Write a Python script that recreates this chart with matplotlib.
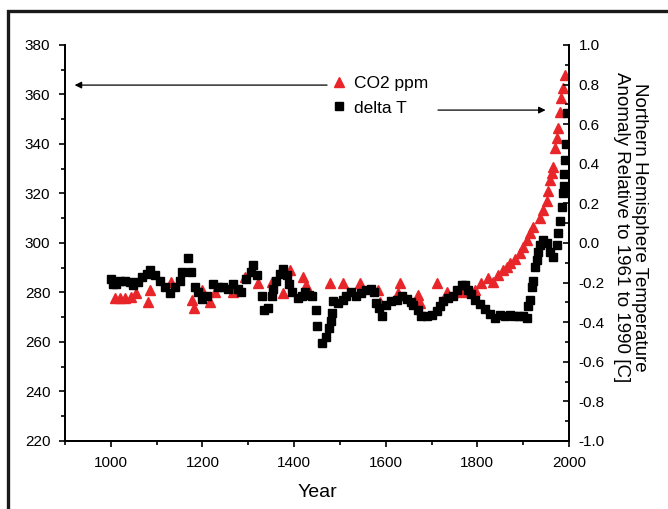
import matplotlib
matplotlib.use('Agg')
from matplotlib import pyplot as plt
from matplotlib.patches import Rectangle
from matplotlib.ticker import MultipleLocator, FormatStrFormatter

plt.rcParams['font.family'] = ['Liberation Sans', 'DejaVu Sans']

# CO2 (ppm)
co2_year = [1009, 1020, 1031, 1045, 1056, 1081, 1085, 1132, 1178, 1182, 1198,
            1216, 1227, 1267, 1293, 1322, 1351, 1376, 1391, 1420, 1427, 1478,
            1507, 1544, 1584, 1588, 1627, 1631, 1671, 1675, 1711, 1733, 1766,
            1795, 1809, 1824, 1835, 1846, 1857, 1864, 1871, 1882, 1893, 1900,
            1908, 1915, 1922, 1937, 1944, 1951, 1955, 1958, 1962, 1966, 1969,
            1973, 1977, 1980, 1983, 1986, 1991]
co2_ppm = [277.7, 277.7, 277.7, 278.3, 279.7, 276.3, 281.0, 284.4, 277.0, 273.6, 281.0,
           276.3, 280.3, 280.3, 286.4, 283.7, 284.4, 279.7, 289.0, 286.4, 283.0, 283.7,
           283.7, 283.7, 281.0, 276.3, 279.7, 283.7, 279.0, 275.6, 283.7, 280.3, 280.3,
           281.0, 283.7, 285.7, 284.4, 287.0, 289.0, 290.5, 292.0, 293.5, 295.8, 298.5,
           301.2, 303.9, 306.6, 310.0, 313.3, 317.0, 321.0, 325.5, 328.2, 330.8, 338.3,
           342.3, 346.3, 353.0, 358.5, 362.5, 367.9]

# Northern hemisphere temperature anomaly (C)
t_year = [1000, 1004, 1012, 1020, 1031, 1041, 1049, 1060, 1067, 1078, 1085, 1096,
          1107, 1118, 1129, 1140, 1151, 1156, 1169, 1176, 1183, 1191, 1200, 1209,
          1223, 1234, 1245, 1256, 1267, 1278, 1285, 1296, 1305, 1311, 1318, 1329,
          1334, 1344, 1351, 1355, 1360, 1369, 1376, 1384, 1388, 1395, 1409, 1418,
          1424, 1432, 1439, 1447, 1451, 1461, 1469, 1476, 1480, 1482, 1486, 1495,
          1506, 1513, 1524, 1535, 1546, 1557, 1568, 1575, 1579, 1586, 1592, 1601,
          1612, 1624, 1635, 1646, 1655, 1660, 1671, 1678, 1689, 1700, 1711, 1718,
          1725, 1736, 1747, 1755, 1766, 1773, 1780, 1787, 1795, 1806, 1817, 1828,
          1838, 1849, 1860, 1871, 1880, 1890, 1900, 1908, 1911, 1915, 1919, 1922,
          1926, 1930, 1933, 1937, 1944, 1952, 1959, 1966, 1973, 1977, 1980, 1984,
          1986, 1988, 1990, 1991, 1994, 1995]
t_anom = [-0.18, -0.205, -0.205, -0.19, -0.19, -0.195, -0.21, -0.195, -0.17, -0.155, -0.135, -0.16,
          -0.19, -0.22, -0.255, -0.22, -0.19, -0.145, -0.075, -0.145, -0.22, -0.245, -0.285, -0.27,
          -0.205, -0.22, -0.22, -0.23, -0.205, -0.23, -0.245, -0.18, -0.145, -0.11, -0.16, -0.27,
          -0.34, -0.33, -0.27, -0.23, -0.19, -0.155, -0.13, -0.16, -0.205, -0.245, -0.28, -0.27,
          -0.25, -0.265, -0.27, -0.34, -0.42, -0.505, -0.475, -0.43, -0.395, -0.355, -0.295, -0.305,
          -0.29, -0.27, -0.245, -0.27, -0.255, -0.235, -0.23, -0.245, -0.305, -0.33, -0.37, -0.315,
          -0.295, -0.29, -0.27, -0.285, -0.30, -0.315, -0.34, -0.37, -0.37, -0.365, -0.345, -0.32,
          -0.295, -0.28, -0.27, -0.235, -0.21, -0.21, -0.235, -0.26, -0.29, -0.31, -0.335, -0.36,
          -0.38, -0.365, -0.37, -0.365, -0.37, -0.37, -0.37, -0.38, -0.32, -0.29, -0.22, -0.19,
          -0.12, -0.085, -0.045, -0.01, 0.015, 0.0, -0.045, -0.07, -0.01, 0.05, 0.11, 0.18,
          0.25, 0.29, 0.35, 0.42, 0.50, 0.655]

fig = plt.figure(figsize=(6.68, 5.09), dpi=100)
ax = fig.add_axes([0.0973, 0.1336, 0.7545, 0.778])
ax2 = ax.twinx()

h1, = ax.plot(co2_year, co2_ppm, linestyle='none', marker='^', ms=7,
              color='#e8262a', mec='#e8262a', label='CO2 ppm', zorder=3)
h2, = ax2.plot(t_year, t_anom, linestyle='none', marker='s', ms=5.5,
               color='black', label='delta T', zorder=3)

ax.set_xlim(900, 2000)
ax.set_ylim(220, 380)
ax2.set_ylim(-1.0, 1.0)

for a in (ax, ax2):
    a.spines['top'].set_visible(False)
    for s in a.spines.values():
        s.set_linewidth(1.3)

ax.set_xticks([1000, 1200, 1400, 1600, 1800, 2000])
ax.xaxis.set_minor_locator(MultipleLocator(100))
ax.yaxis.set_major_locator(MultipleLocator(20))
ax.yaxis.set_minor_locator(MultipleLocator(10))
ax2.yaxis.set_major_locator(MultipleLocator(0.2))
ax2.yaxis.set_minor_locator(MultipleLocator(0.1))
ax2.yaxis.set_major_formatter(FormatStrFormatter('%.1f'))

ax.tick_params(axis='y', which='major', direction='out', length=4.5, width=1.2,
               labelsize=11, pad=6)
ax.tick_params(axis='x', which='major', direction='out', length=4.5, width=1.2,
               labelsize=11, pad=6.5)
ax.tick_params(axis='both', which='minor', direction='out', length=3, width=1.2)
ax2.tick_params(axis='y', which='major', direction='in', length=4.5, width=1.2,
                labelsize=11, pad=7)
ax2.tick_params(axis='y', which='minor', direction='in', length=3, width=1.2)

ax.set_xlabel('Year', fontsize=14, labelpad=10)
ax2.set_ylabel('Northern Hemisphere Temperature\nAnomaly Relative to 1961 to 1990 [C]',
               rotation=270, fontsize=13.5, labelpad=31, linespacing=1.05)
ax2.yaxis.label.set_y(0.54)

ax.legend(handles=[h1, h2], loc='upper left', bbox_to_anchor=(0.513, 0.94),
          frameon=False, fontsize=12.5, handletextpad=0.35, labelspacing=0.55,
          handlelength=1.0, borderaxespad=0)

ax.annotate('', xy=(915, 363.8), xytext=(1478, 363.8),
            arrowprops=dict(arrowstyle='-|>', color='black', lw=0.9,
                            mutation_scale=10))
ax.annotate('', xy=(1955, 353.7), xytext=(1708, 353.7),
            arrowprops=dict(arrowstyle='-|>', color='black', lw=0.9,
                            mutation_scale=10))

fig.patches.append(Rectangle((0.012, -0.1), 1.2, 1.1 - 0.022, transform=fig.transFigure,
                             fill=False, edgecolor='#1a1a1a', linewidth=2.4))

plt.savefig('out.png', dpi=100)
